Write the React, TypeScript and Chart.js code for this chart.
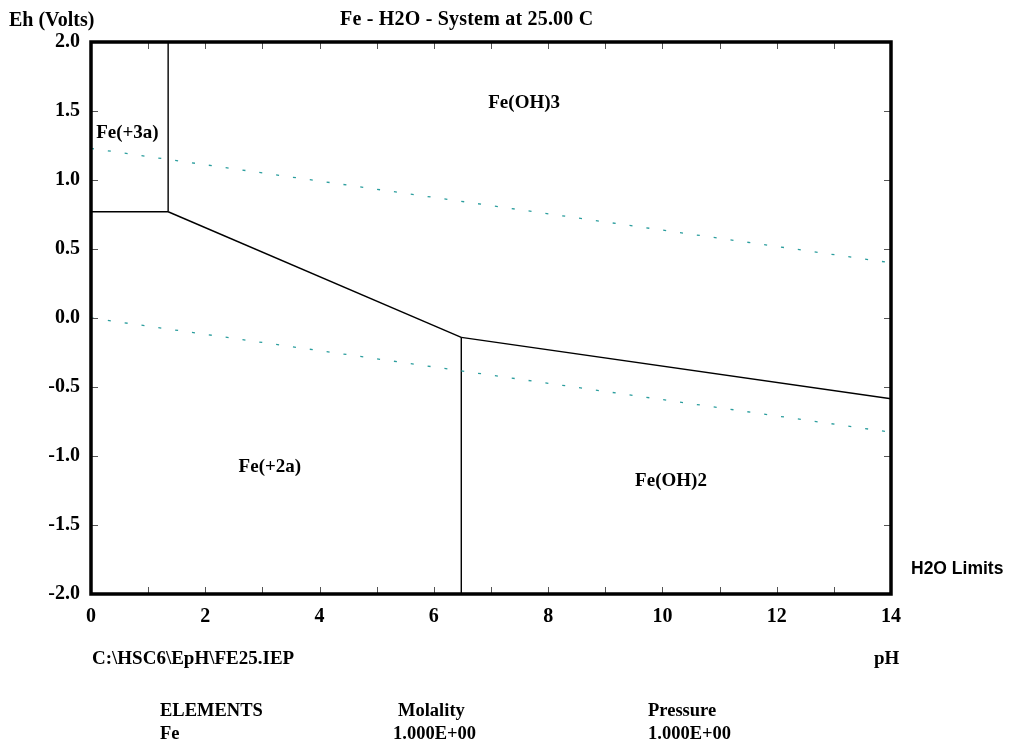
import React, { useEffect, useRef } from "react";
import { Chart, registerables } from "chart.js";

Chart.register(...registerables);

// ---- Data (pH on x, Eh in volts on y) ----
const waterUpperPH = [0, 14];
const waterUpperEh = [1.229, 0.4];
const waterLowerPH = [0, 14];
const waterLowerEh = [0.0, -0.828];

const fe3Fe2PH = [0, 1.35];
const fe3Fe2Eh = [0.77, 0.77];
const fe3FeOH3PH = [1.35, 1.35];
const fe3FeOH3Eh = [0.77, 2.0];
const feOH3Fe2PH = [1.35, 6.48];
const feOH3Fe2Eh = [0.77, -0.14];
const feOH3FeOH2PH = [6.48, 14];
const feOH3FeOH2Eh = [-0.14, -0.585];
const fe2FeOH2PH = [6.48, 6.48];
const fe2FeOH2Eh = [-0.14, -2.0];

const regionNames = ["Fe(+3a)", "Fe(OH)3", "Fe(+2a)", "Fe(OH)2"];
const regionPH = [0.09, 7.58, 3.13, 10.15];
const regionEh = [1.34, 1.56, -1.08, -1.18];
const regionAlign = ["left", "center", "center", "center"];

const titleText = "Fe - H2O - System at 25.00 C";
const yAxisTitle = "Eh (Volts)";
const xAxisTitle = "pH";
const fileText = "C:\\HSC6\\EpH\\FE25.IEP";
const legendText = "H2O Limits";
const tableHeaders = ["ELEMENTS", "Molality", "Pressure"];
const tableRow = ["Fe", "1.000E+00", "1.000E+00"];

const SERIF = '"Liberation Serif", "Times New Roman", serif';
const SANS = '"Liberation Sans", Arial, sans-serif';

function pts(xs: number[], ys: number[]) {
  return xs.map((x, i) => ({ x, y: ys[i] }));
}

const decorPlugin = {
  id: "decor",
  afterDatasetsDraw(chart: any) {
    const { ctx, chartArea, scales } = chart;
    const xs = scales.x;
    const ys = scales.y;
    const { left, right, top, bottom } = chartArea;
    ctx.save();
    // inward tick marks
    ctx.strokeStyle = "#555";
    ctx.lineWidth = 1;
    ctx.beginPath();
    xs.ticks.forEach((t: any) => {
      const px = Math.round(xs.getPixelForValue(t.value)) + 0.5;
      ctx.moveTo(px, bottom);
      ctx.lineTo(px, bottom - 7);
      ctx.moveTo(px, top);
      ctx.lineTo(px, top + 7);
    });
    ys.ticks.forEach((t: any) => {
      const py = Math.round(ys.getPixelForValue(t.value)) + 0.5;
      ctx.moveTo(left, py);
      ctx.lineTo(left + 7, py);
      ctx.moveTo(right, py);
      ctx.lineTo(right - 7, py);
    });
    ctx.stroke();
    // frame
    ctx.strokeStyle = "#000";
    ctx.lineWidth = 3.5;
    ctx.strokeRect(left, top, right - left, bottom - top);
    // region labels
    ctx.fillStyle = "#000";
    ctx.font = `bold 19px ${SERIF}`;
    ctx.textBaseline = "middle";
    regionNames.forEach((name, i) => {
      ctx.textAlign = regionAlign[i] as CanvasTextAlign;
      ctx.fillText(name, xs.getPixelForValue(regionPH[i]), ys.getPixelForValue(regionEh[i]));
    });
    ctx.restore();
  },
  afterDraw(chart: any) {
    const { ctx } = chart;
    ctx.save();
    ctx.fillStyle = "#000";
    ctx.textAlign = "left";
    ctx.textBaseline = "alphabetic";
    ctx.font = `bold 20px ${SERIF}`;
    (ctx as any).letterSpacing = "0.2px";
    ctx.fillText(titleText, 340, 25);
    (ctx as any).letterSpacing = "0px";
    ctx.fillText(yAxisTitle, 9, 26);
    ctx.font = `bold 19px ${SERIF}`;
    ctx.fillText(fileText, 92, 664);
    ctx.fillText(xAxisTitle, 874, 664);
    ctx.font = `bold 18.5px ${SERIF}`;
    ctx.fillText(tableHeaders[0], 160, 716);
    ctx.fillText(tableHeaders[1], 398, 716);
    ctx.fillText(tableHeaders[2], 648, 716);
    ctx.fillText(tableRow[0], 160, 739);
    ctx.fillText(tableRow[1], 393, 739);
    ctx.fillText(tableRow[2], 648, 739);
    ctx.font = `bold 17.5px ${SANS}`;
    ctx.fillText(legendText, 911, 574);
    ctx.restore();
  },
};

export default function App() {
  const ref = useRef<HTMLCanvasElement>(null);
  useEffect(() => {
    if (!ref.current) return;
    const solid = (data: any) => ({
      data,
      borderColor: "#000",
      borderWidth: 1.4,
      pointRadius: 0,
      showLine: true,
      fill: false,
      tension: 0,
    });
    const dotted = (data: any) => ({
      data,
      borderColor: "#2a9d9d",
      borderWidth: 1.3,
      borderDash: [3, 14],
      pointRadius: 0,
      showLine: true,
      fill: false,
      tension: 0,
    });
    const chart = new Chart(ref.current, {
      type: "line",
      data: {
        datasets: [
          dotted(pts(waterUpperPH, waterUpperEh)),
          dotted(pts(waterLowerPH, waterLowerEh)),
          solid(pts(fe3Fe2PH, fe3Fe2Eh)),
          solid(pts(fe3FeOH3PH, fe3FeOH3Eh)),
          solid(pts(feOH3Fe2PH, feOH3Fe2Eh)),
          solid(pts(feOH3FeOH2PH, feOH3FeOH2Eh)),
          solid(pts(fe2FeOH2PH, fe2FeOH2Eh)),
        ] as any,
      },
      options: {
        animation: false,
        responsive: false,
        maintainAspectRatio: false,
        layout: { padding: { left: 0, top: 42, right: 120, bottom: 0 } },
        plugins: { legend: { display: false }, tooltip: { enabled: false }, title: { display: false } },
        scales: {
          x: {
            type: "linear",
            min: 0,
            max: 14,
            grid: { display: false, drawTicks: false },
            border: { display: false },
            afterFit: (s: any) => { s.height = 747 - 594; },
            ticks: {
              stepSize: 1,
              autoSkip: false,
              maxRotation: 0,
              padding: 11,
              color: "#000",
              font: { family: SERIF, size: 20, weight: "bold" },
              callback: (v: any) => (Number(v) % 2 === 0 ? String(v) : ""),
            },
          },
          y: {
            type: "linear",
            min: -2,
            max: 2,
            grid: { display: false, drawTicks: false },
            border: { display: false },
            afterFit: (s: any) => { s.width = 91; },
            ticks: {
              stepSize: 0.5,
              padding: 11,
              color: "#000",
              font: { family: SERIF, size: 20, weight: "bold" },
              callback: (v: any) => Number(v).toFixed(1),
            },
          },
        },
      } as any,
      plugins: [decorPlugin],
    });
    return () => chart.destroy();
  }, []);
  return (
    <div style={{ position: "absolute", left: 0, top: 0, width: 1011, height: 747, background: "#fff" }}>
      <canvas ref={ref} width={1011} height={747} style={{ display: "block" }} />
    </div>
  );
}
